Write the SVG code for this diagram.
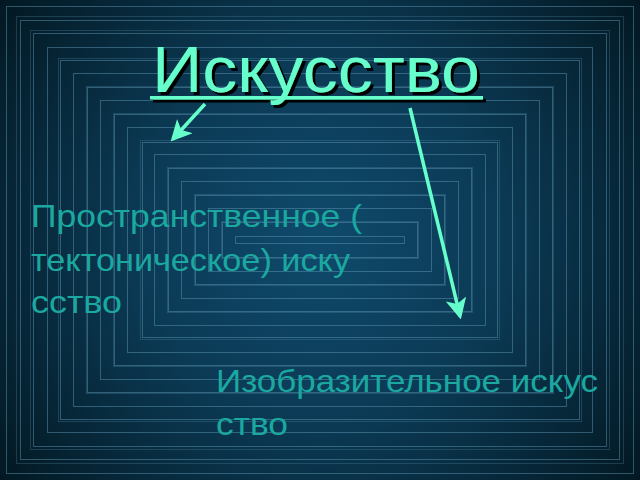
<svg xmlns="http://www.w3.org/2000/svg" width="640" height="480" viewBox="0 0 640 480">
<defs>
<radialGradient id="bg" cx="320" cy="240" r="400" gradientUnits="userSpaceOnUse">
<stop offset="0" stop-color="#0f4a6c"/>
<stop offset="0.45" stop-color="#0b3a55"/>
<stop offset="1" stop-color="#031822"/>
</radialGradient>
<filter id="sh" x="-10%" y="-20%" width="130%" height="150%">
<feOffset in="SourceAlpha" dx="3" dy="3" result="o"/>
<feFlood flood-color="#000"/>
<feComposite in2="o" operator="in" result="s"/>
<feMerge><feMergeNode in="s"/><feMergeNode in="SourceGraphic"/></feMerge>
</filter>
<marker id="ah" markerWidth="6" markerHeight="6" refX="5" refY="3" orient="auto" markerUnits="strokeWidth">
<path d="M0,0 L6,3 L0,6 L1.5,3 Z" fill="#66ffcc"/>
</marker>
<style>
.fr{fill:none;stroke:#5a93b0;stroke-opacity:0.5;stroke-width:1}
.fr2{fill:none;stroke:#5a93b0;stroke-opacity:0.28;stroke-width:1}
.t{font-family:"Liberation Sans",Arial,sans-serif;font-size:32px;fill:#1aa8a0}
.title{font-family:"Liberation Sans",Arial,sans-serif;font-size:64px;fill:#66ffcc}
.ar{stroke:#66ffcc;stroke-width:3.5;fill:none;marker-end:url(#ah)}
</style>
</defs>
<rect width="640" height="480" fill="url(#bg)"/>
<g id="frames">
<rect class="fr" x="6.5" y="6.5" width="627" height="467"/>
<rect class="fr2" x="16.5" y="16.5" width="607" height="447"/>
<rect class="fr" x="20.5" y="20.5" width="599" height="439"/>
<rect class="fr2" x="30.5" y="30.5" width="579" height="419"/>
<rect class="fr" x="33.5" y="33.5" width="573" height="413"/>
<rect class="fr" x="47.5" y="47.5" width="545" height="385"/>
<rect class="fr2" x="58.5" y="58.5" width="523" height="363"/>
<rect class="fr" x="60.5" y="60.5" width="519" height="359"/>
<rect class="fr" x="73.5" y="73.5" width="493" height="333"/>
<rect class="fr2" x="86.5" y="86.5" width="467" height="307"/>
<rect class="fr" x="87.5" y="87.5" width="465" height="305"/>
<rect class="fr" x="100.5" y="100.5" width="439" height="279"/>
<rect class="fr2" x="113.5" y="113.5" width="413" height="253"/>
<rect class="fr" x="114.5" y="114.5" width="411" height="251"/>
<rect class="fr" x="127.5" y="127.5" width="385" height="225"/>
<rect class="fr2" x="140.5" y="140.5" width="359" height="199"/>
<rect class="fr" x="142.5" y="142.5" width="355" height="195"/>
<rect class="fr" x="154.5" y="154.5" width="331" height="171"/>
<rect class="fr2" x="167.5" y="167.5" width="305" height="145"/>
<rect class="fr" x="168.5" y="168.5" width="303" height="143"/>
<rect class="fr" x="181.5" y="181.5" width="277" height="117"/>
<rect class="fr2" x="194.5" y="194.5" width="251" height="91"/>
<rect class="fr" x="195.5" y="195.5" width="249" height="89"/>
<rect class="fr" x="208.5" y="208.5" width="223" height="63"/>
<rect class="fr2" x="221.5" y="221.5" width="197" height="37"/>
<rect class="fr" x="222.5" y="222.5" width="195" height="35"/>
<rect class="fr" x="235.5" y="236.5" width="169" height="7"/>
</g>
<g id="title" filter="url(#sh)">
<text x="152" y="92" class="title" textLength="328" lengthAdjust="spacingAndGlyphs">Искусство</text>
<rect x="150" y="96" width="333" height="3.5" fill="#66ffcc"/>
</g>
<g id="node-spatial">
<text class="t" x="31" y="227" textLength="331" lengthAdjust="spacingAndGlyphs">Пространственное (</text>
<text class="t" x="31" y="271" textLength="319" lengthAdjust="spacingAndGlyphs">тектоническое) иску</text>
<text class="t" x="31" y="313" textLength="91" lengthAdjust="spacingAndGlyphs">сство</text>
</g>
<g id="node-fine">
<text class="t" x="216" y="392" textLength="382" lengthAdjust="spacingAndGlyphs">Изобразительное искус</text>
<text class="t" x="216" y="435" textLength="72" lengthAdjust="spacingAndGlyphs">ство</text>
</g>
<g id="connectors">
<line class="ar" x1="205" y1="104" x2="173" y2="139"/>
<line class="ar" x1="410" y1="108" x2="460" y2="316"/>
</g>
</svg>
